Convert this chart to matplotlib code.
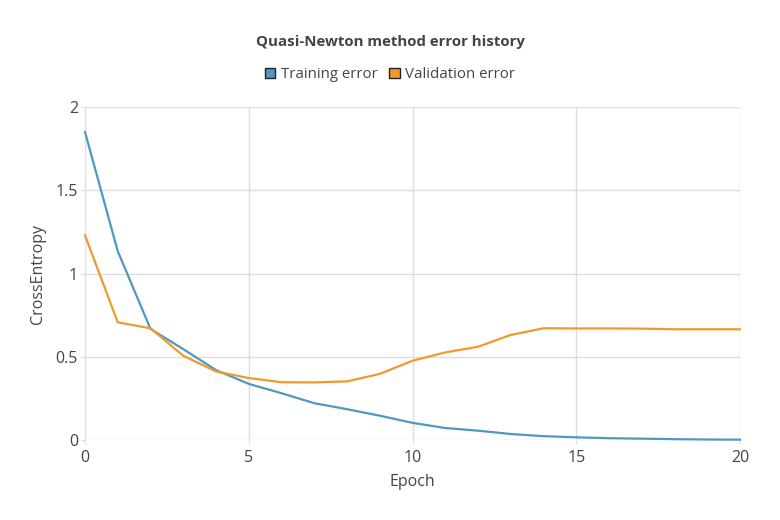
import numpy as np
import matplotlib
matplotlib.use('Agg')
import matplotlib.pyplot as plt
from matplotlib.patches import Patch

epochs = list(range(21))
training_error = [1.85, 1.134, 0.667, 0.546, 0.42, 0.337, 0.281, 0.221, 0.185, 0.146, 0.103,
                  0.072, 0.056, 0.036, 0.023, 0.016, 0.011, 0.008, 0.005, 0.003, 0.002]
validation_error = [1.229, 0.707, 0.671, 0.506, 0.412, 0.372, 0.347, 0.346, 0.352, 0.397, 0.476,
                    0.526, 0.56, 0.631, 0.671, 0.670, 0.670, 0.669, 0.665, 0.665, 0.665]

blue = '#4f98bf'
orange = '#ef9a2b'
grid_col = '#dddddd'
text_col = '#444444'

plt.rcParams['font.family'] = ['Open Sans', 'DejaVu Sans']

fig = plt.figure(figsize=(7.8, 5.2), dpi=100)
ax = fig.add_axes([85 / 780, 1 - 440 / 520, 655 / 780, 333 / 520])

ax.plot(epochs, training_error, color=blue, lw=1.6, clip_on=False, zorder=3)
ax.plot(epochs, validation_error, color=orange, lw=1.6, clip_on=False, zorder=3)

ax.set_xlim(0, 20)
ax.set_ylim(0, 2)
ax.set_xticks([0, 5, 10, 15, 20])
ax.set_yticks([0, 0.5, 1, 1.5, 2])
ax.set_yticklabels(['0', '0.5', '1', '1.5', '2'])
ax.grid(True, color=grid_col, lw=1)
ax.set_axisbelow(True)
for s in ax.spines.values():
    s.set_visible(False)
ax.tick_params(axis='both', length=3, color=grid_col, labelcolor=text_col, labelsize=11.5)
ax.tick_params(axis='x', pad=4)
ax.tick_params(axis='y', pad=2)

ax.set_xlabel('Epoch', color=text_col, fontsize=11.5, labelpad=6)
ax.set_ylabel('CrossEntropy', color=text_col, fontsize=11.5, labelpad=7)

fig.text(0.5, 1 - 42 / 520, 'Quasi-Newton method error history', ha='center', va='center',
         fontsize=10.8, fontweight='bold', color=text_col)

handles = [Patch(facecolor=blue, edgecolor='#222222', lw=1, label='Training error'),
           Patch(facecolor=orange, edgecolor='#222222', lw=1, label='Validation error')]
fig.legend(handles=handles, loc='center', bbox_to_anchor=(0.5, 1 - 75 / 520), ncol=2, frameon=False,
           fontsize=10.8, handlelength=0.7, handleheight=0.7, handletextpad=0.35, columnspacing=0.8,
           labelcolor=text_col)

fig.savefig('out.png', dpi=100)
